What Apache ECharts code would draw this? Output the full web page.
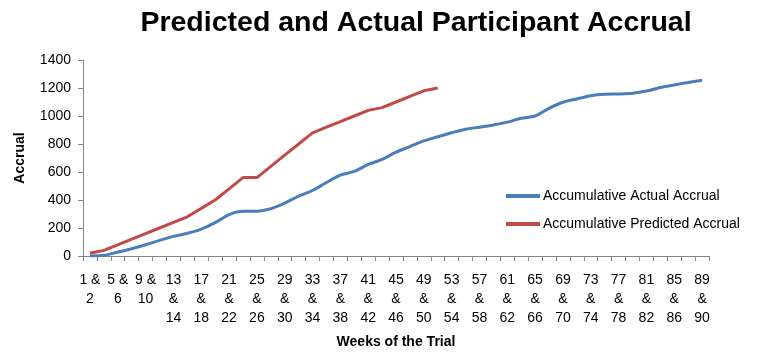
<!DOCTYPE html>
<html>
<head>
<meta charset="utf-8">
<script src="https://cdn.jsdelivr.net/npm/echarts@6/dist/echarts.min.js"></script>
<style>
  html, body { margin: 0; padding: 0; background: #fff; }
  #chart { width: 769px; height: 354px; }
</style>
</head>
<body>
<div id="chart"></div>
<script>
// Two-week periods of the trial
const weeks = [
  "1 & 2", "3 & 4", "5 & 6", "7 & 8", "9 & 10", "11 & 12", "13 & 14", "15 & 16",
  "17 & 18", "19 & 20", "21 & 22", "23 & 24", "25 & 26", "27 & 28", "29 & 30",
  "31 & 32", "33 & 34", "35 & 36", "37 & 38", "39 & 40", "41 & 42", "43 & 44",
  "45 & 46", "47 & 48", "49 & 50", "51 & 52", "53 & 54", "55 & 56", "57 & 58",
  "59 & 60", "61 & 62", "63 & 64", "65 & 66", "67 & 68", "69 & 70", "71 & 72",
  "73 & 74", "75 & 76", "77 & 78", "79 & 80", "81 & 82", "83 & 84", "85 & 86",
  "87 & 88", "89 & 90"
];

// Cumulative enrolment actually achieved
const actualAccrual = [
  0, 5, 28, 52, 80, 112, 140, 162, 192, 238, 296, 320, 320, 338, 378,
  428, 468, 525, 578, 604, 654, 690, 742, 782, 822, 852, 880, 906, 920,
  936, 956, 984, 1000, 1055, 1098, 1122, 1145, 1155, 1157, 1162, 1178,
  1204, 1222, 1240, 1256
];

// Cumulative enrolment planned for the trial
const predictedAccrual = [
  20, 40, 80, 120, 160, 200, 240, 280, 340, 400, 480, 560, 560, 640, 720,
  800, 880, 920, 960, 1000, 1040, 1060, 1100, 1140, 1180, 1200
];

const yTicks = [0, 200, 400, 600, 800, 1000, 1200, 1400];

const BLUE = '#4a7ebb';
const RED = '#be4b48';
const FONT = '"Liberation Sans", Arial, Helvetica, sans-serif';

const chart = echarts.init(document.getElementById('chart'), null, { renderer: 'canvas' });

chart.setOption({
  animation: false,
  textStyle: { fontFamily: FONT, color: '#000' },
  title: {
    text: 'Predicted and Actual Participant Accrual',
    left: 411,
    textAlign: 'center',
    top: 4,
    textStyle: { fontFamily: FONT, fontSize: 28.5, fontWeight: 'bold', color: '#000' }
  },
  legend: {
    orient: 'vertical',
    left: 501,
    top: 184,
    itemWidth: 34,
    itemHeight: 4,
    itemGap: 14,
    icon: 'rect',
    textStyle: { fontFamily: FONT, fontSize: 14, color: '#000', padding: [0, 0, 0, -2] },
    data: ['Accumulative Actual Accrual', 'Accumulative Predicted Accrual']
  },
  grid: { left: 83, right: 60, top: 60, bottom: 94, containLabel: false },
  xAxis: {
    type: 'category',
    data: weeks,
    boundaryGap: true,
    name: 'Weeks of the Trial',
    nameLocation: 'middle',
    nameGap: 79,
    nameTextStyle: { fontFamily: FONT, fontSize: 14, fontWeight: 'bold', color: '#000' },
    axisLine: { lineStyle: { color: '#868686', width: 1 } },
    axisTick: { show: true, length: 5, interval: 0, lineStyle: { color: '#868686' } },
    axisLabel: {
      interval: 1,
      margin: 15,
      fontSize: 14,
      lineHeight: 19,
      color: '#000',
      fontFamily: FONT,
      formatter: function (v) {
        const parts = v.split(' & ');
        return parts[0].length < 2 ? parts[0] + ' &\n' + parts[1] : parts[0] + '\n&\n' + parts[1];
      }
    },
    splitLine: { show: false }
  },
  yAxis: {
    type: 'value',
    min: yTicks[0],
    max: yTicks[yTicks.length - 1],
    interval: yTicks[1] - yTicks[0],
    name: 'Accrual',
    nameLocation: 'middle',
    nameGap: 56,
    nameRotate: 90,
    nameTextStyle: { fontFamily: FONT, fontSize: 14, fontWeight: 'bold', color: '#000' },
    axisLine: { show: true, lineStyle: { color: '#868686', width: 1 } },
    axisTick: { show: true, length: 5, lineStyle: { color: '#868686' } },
    axisLabel: {
      fontSize: 14, color: '#000', fontFamily: FONT, margin: 12,
      formatter: function (v) { return String(v); }
    },
    splitLine: { show: false }
  },
  series: [
    {
      name: 'Accumulative Actual Accrual',
      type: 'line',
      data: actualAccrual,
      smooth: 0.3,
      showSymbol: false,
      symbol: 'none',
      color: BLUE,
      lineStyle: { color: BLUE, width: 3 }
    },
    {
      name: 'Accumulative Predicted Accrual',
      type: 'line',
      data: predictedAccrual,
      showSymbol: false,
      symbol: 'none',
      color: RED,
      lineStyle: { color: RED, width: 3 }
    }
  ]
});
</script>
</body>
</html>
